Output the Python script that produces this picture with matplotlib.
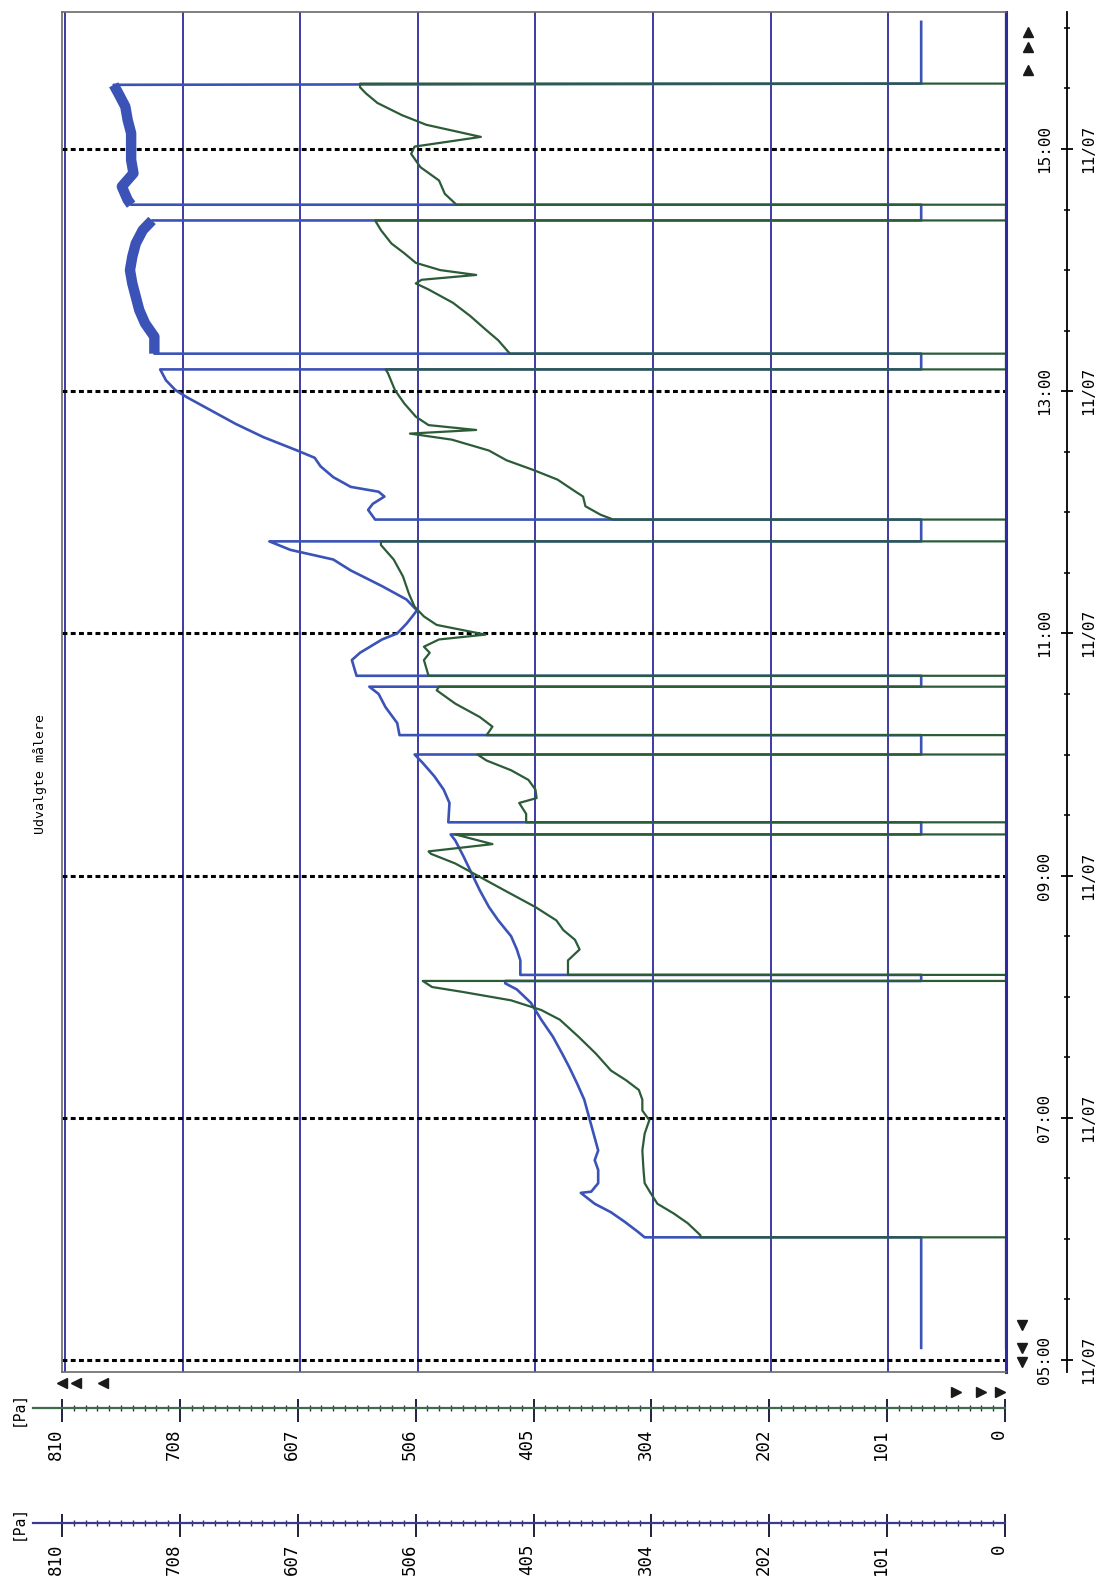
import numpy as np
import matplotlib
matplotlib.use("Agg")
import matplotlib.pyplot as plt
from matplotlib.transforms import ScaledTranslation, blended_transform_factory

# pressure traces, time in hours of 11/07, pressure in Pa
blue_time = [5.10, 6.013, 6.013, 6.06, 6.14, 6.22, 6.29, 6.38, 6.39, 6.46, 6.57, 6.65,
             6.73, 6.87, 7.01, 7.15, 7.28, 7.42, 7.53, 7.67, 7.81, 7.95, 8.06, 8.11,
             8.13, 8.13, 8.18, 8.18, 8.30, 8.39, 8.50, 8.63, 8.74, 8.88, 9.02, 9.16,
             9.29, 9.34, 9.34, 9.44, 9.44, 9.60, 9.71, 9.82, 9.93, 10.00, 10.00, 10.16,
             10.16, 10.26, 10.39, 10.50, 10.56, 10.56, 10.65, 10.65, 10.78, 10.84, 10.95,
             11.00, 11.08, 11.14, 11.19, 11.28, 11.39, 11.52, 11.61, 11.69, 11.76, 11.76,
             11.94, 11.94, 12.02, 12.07, 12.13, 12.17, 12.21, 12.29, 12.38, 12.45, 12.51,
             12.62, 12.73, 12.84, 12.95, 13.01, 13.09, 13.18, 13.18, 13.31, 13.31, 13.45,
             13.56, 13.67, 13.78, 13.89, 14.00, 14.11, 14.22, 14.33, 14.41, 14.41, 14.54,
             14.54, 14.58, 14.69, 14.80, 14.91, 15.02, 15.13, 15.24, 15.35, 15.46, 15.53,
             15.54, 16.05]
blue_pa = [73, 73, 311, 317, 328, 340, 354, 366, 357, 351, 351, 354,
           351, 355, 359, 363, 369, 376, 382, 390, 400, 409, 421, 431,
           431, 73, 73, 418, 418, 421, 426, 437, 445, 453, 460, 467,
           474, 478, 73, 73, 480, 479, 484, 492, 502, 509, 73, 73,
           522, 524, 534, 540, 548, 73, 73, 559, 563, 556, 537,
           524, 516, 511, 507, 516, 537, 564, 579, 616, 634, 73,
           73, 543, 549, 545, 535, 540, 564, 579, 590, 595, 610,
           639, 663, 684, 705, 715, 723, 728, 73, 73, 733, 733,
           741, 746, 749, 752, 754, 752, 749, 743, 735, 73, 73,
           753, 756, 761, 751, 753, 753, 753, 756, 758, 764, 768,
           73, 73]

green_time = [5.10, 6.013, 6.013, 6.03, 6.13, 6.21, 6.29, 6.38, 6.46, 6.57, 6.73, 6.87,
              6.98, 7.06, 7.15, 7.23, 7.31, 7.39, 7.53, 7.67, 7.81, 7.89, 7.97, 8.04,
              8.08, 8.13, 8.13, 8.18, 8.18, 8.30, 8.39, 8.47, 8.55, 8.63, 8.74, 8.88,
              8.99, 9.10, 9.18, 9.20, 9.26, 9.34, 9.34, 9.44, 9.44, 9.51, 9.60, 9.64,
              9.71, 9.79, 9.87, 9.95, 10.00, 10.00, 10.16, 10.16, 10.23, 10.31, 10.42,
              10.53, 10.56, 10.56, 10.65, 10.65, 10.78, 10.84, 10.89, 10.95, 10.99, 11.03,
              11.07, 11.14, 11.22, 11.33, 11.47, 11.61, 11.73, 11.76, 11.76, 11.94, 11.94,
              11.98, 12.05, 12.13, 12.18, 12.27, 12.35, 12.43, 12.51, 12.60, 12.65, 12.68,
              12.72, 12.79, 12.90, 13.01, 13.15, 13.18, 13.18, 13.31, 13.31, 13.42, 13.51,
              13.62, 13.73, 13.84, 13.89, 13.92, 13.96, 14.00, 14.06, 14.14, 14.22, 14.33,
              14.41, 14.41, 14.54, 14.54, 14.63, 14.74, 14.85, 14.96, 15.02, 15.10, 15.20,
              15.28, 15.38, 15.46, 15.51, 15.54, 15.54, 16.13]
green_pa = [0, 0, 263, 263, 274, 286, 300, 306, 311, 312, 313, 311,
            307, 313, 313, 316, 327, 340, 353, 368, 384, 400, 426, 468,
            494, 502, 0, 0, 377, 377, 367, 371, 381, 387, 405, 432,
            453, 474, 495, 497, 442, 474, 0, 0, 413, 413, 419, 404,
            405, 411, 426, 447, 455, 0, 0, 447, 442, 453, 474,
            490, 488, 0, 0, 497, 501, 496, 501, 488, 448, 469,
            490, 501, 509, 514, 519, 527, 538, 538, 0, 0, 338,
            349, 362, 364, 372, 386, 407, 430, 445, 477, 513, 456,
            497, 508, 518, 526, 532, 534, 0, 0, 427, 437, 448,
            461, 476, 497, 508, 503, 456, 487, 508, 518, 529, 538,
            543, 0, 0, 473, 483, 488, 504, 512, 509, 452, 499,
            520, 541, 551, 556, 556, 0, 0]

pa_labels = ["0", "101", "202", "304", "405", "506", "607", "708", "810"]
hour_labels = [5, 7, 9, 11, 13, 15]
date_label = "11/07"
title = "Udvalgte målere"

PA_MAX = 810
PA_STEP = PA_MAX / 8

W, H = 1108, 1585
NAVY = "#2c2c9e"
BLUE = "#3b53b6"
GREEN = "#2b5c37"
MONO = "DejaVu Sans Mono"

fig = plt.figure(figsize=(W / 100, H / 100), dpi=100)


def box(x0, y0, x1, y1):
    # pixel rectangle (top-left origin) -> figure fraction
    return [x0 / W, 1 - y1 / H, (x1 - x0) / W, (y1 - y0) / H]


def shift(dx, dy=0):
    return ScaledTranslation(dx / 100, dy / 100, fig.dpi_scale_trans)


# main plot: pressure runs right to left, time runs upwards
ax = fig.add_axes(box(62, 12, 1006, 1372))
ax.set_xlim(812.5, 0)
ax.set_ylim(5 - 12 / 121.1, 5 + 1348 / 121.1)
ax.set_xticks([])
ax.set_yticks([])
for k in range(1, 9):
    ax.axvline(k * PA_STEP, color=NAVY, lw=1.3, zorder=1)
for h in hour_labels:
    ax.axhline(h, color="black", lw=2.2, ls=(0, (1.6, 1.1)), zorder=1)
for side in ["top", "bottom", "left"]:
    ax.spines[side].set_color("#6a6a6a")
    ax.spines[side].set_linewidth(1.2)
ax.spines["right"].set_color(NAVY)
ax.spines["right"].set_linewidth(2.2)

bt = np.array(blue_time)
bv = np.array(blue_pa, dtype=float)
gt = np.array(green_time)
gv = np.array(green_pa, dtype=float)

ax.plot(bv, bt, color=BLUE, lw=1.9, zorder=2)
# the late part of the blue signal is very noisy, draw it as a thick band
fuzz = np.where((bt >= 13.3) & (bv > 200), bv, np.nan)
ax.plot(fuzz, bt, color=BLUE, lw=7.5, solid_capstyle="butt", zorder=2)
ax.plot(gv, gt, color=GREEN, lw=1.6, zorder=2.1)

# time axis to the right of the plot
tax = fig.add_axes(box(1067, 12, 1068, 1372))
tax.set_xticks([])
for side in ["top", "bottom", "right"]:
    tax.spines[side].set_visible(False)
tax.spines["left"].set_linewidth(1.3)
tax.patch.set_alpha(0)
tax.set_yticks(hour_labels)
tax.set_yticks(np.arange(5, 16.6, 0.5), minor=True)
tax.set_ylim(ax.get_ylim())
tax.tick_params(axis="y", which="major", direction="inout", length=9, width=1.3, labelleft=False)
tax.tick_params(axis="y", which="minor", direction="inout", length=5, width=1.1)
ttr = blended_transform_factory(tax.transAxes, tax.transData)
for h in hour_labels:
    tax.text(0, h, f"{h:02d}:00", transform=ttr + shift(-22), rotation=90,
             ha="center", va="center", fontsize=11.5, family=MONO)
    tax.text(0, h, date_label, transform=ttr + shift(22), rotation=90,
             ha="center", va="center", fontsize=11.5, family=MONO)


def pa_scale(y_px, line_color):
    # horizontal pressure scale below the plot, 810 at x=62 and 0 at x=1005
    sax = fig.add_axes(box(33, y_px, 1005, y_px + 0.01))
    sax.set_ylim(0, 1)
    sax.patch.set_alpha(0)
    for side in ["top", "left", "right"]:
        sax.spines[side].set_visible(False)
    sax.spines["bottom"].set_color(line_color)
    sax.spines["bottom"].set_linewidth(1.6)
    sax.set_yticks([])
    ticks = np.arange(0, PA_MAX + 1, PA_STEP)
    sax.set_xticks(ticks)
    sax.set_xticklabels([])
    sax.set_xticks(np.arange(0, PA_MAX + 1, PA_STEP / 10), minor=True)
    sax.set_xlim(PA_MAX + (62 - 33) * PA_MAX / (1005 - 62), 0)
    sax.tick_params(axis="x", which="major", direction="out", length=10, width=1.4, color="#202040")
    sax.tick_params(axis="x", which="minor", direction="inout", length=4.5, width=1.0, color="#303050")
    top = sax.secondary_xaxis("top")
    top.set_xticks(ticks)
    top.set_xticklabels([])
    top.tick_params(direction="out", length=6.5, width=1.4, color="#202040")
    top.spines["top"].set_visible(False)
    str_ = blended_transform_factory(sax.transData, sax.transAxes)
    for v, lab in zip(ticks, pa_labels):
        sax.text(v, 0, lab, transform=str_ + shift(-6, -20), rotation=90,
                 ha="center", va="top", fontsize=12.5, family=MONO)
    fig.text(18 / W, 1 - y_px / H, "[Pa]", rotation=90, ha="center", va="center",
             fontsize=10.5, family=MONO)


pa_scale(1408, "#3d6b4c")
pa_scale(1523, "#3a3a92")

# scroll arrows and title, placed in pixel space
ov = fig.add_axes([0, 0, 1, 1], zorder=-1)
ov.set_xlim(0, W)
ov.set_ylim(H, 0)
ov.axis("off")
ov.plot([1028, 1028, 1028], [32, 47, 70], ls="none", marker="^", ms=7.5, color="#1a1a1a")
ov.plot([1022, 1022, 1022], [1325, 1348, 1362], ls="none", marker="v", ms=7.5, color="#1a1a1a")
ov.plot([62, 76, 103], [1383, 1383, 1383], ls="none", marker="<", ms=7.5, color="#1a1a1a")
ov.plot([956, 981, 1000], [1392, 1392, 1392], ls="none", marker=">", ms=7.5, color="#1a1a1a")
ov.text(40, 774, title, rotation=90, ha="center", va="center", fontsize=9.5, family=MONO)

fig.savefig("out.png", dpi=100)
